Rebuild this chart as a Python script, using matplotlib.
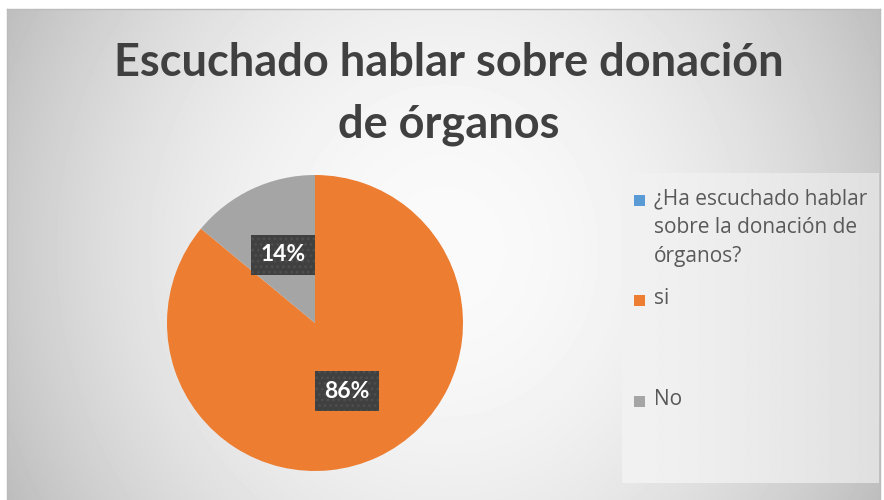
import numpy as np
import matplotlib
matplotlib.use("Agg")
import matplotlib.pyplot as plt
from matplotlib.patches import Rectangle

# data
categories = ["¿Ha escuchado hablar\nsobre la donación de\nórganos?", "si", "No"]
values = [0, 86, 14]
colors = ["#5B9BD5", "#ED7D31", "#A5A5A5"]
title = "Escuchado hablar sobre donación\nde órganos"

W, H = 884, 500
fig = plt.figure(figsize=(W / 100, H / 100), dpi=100, facecolor="white")

# chart area background: soft radial gradient
bg = fig.add_axes([7 / W, 0, (880 - 7) / W, (500 - 9) / H])
yy, xx = np.mgrid[0:491, 0:873]
dx = (xx + 7 - 445) / 440.0
dy = (yy + 9 - 250) / 245.0
shade = np.clip(0.98 - 0.19 * dx**2 - 0.05 * dy**2, 0, 1)
bg.imshow(shade, cmap="gray", vmin=0, vmax=1, aspect="auto", interpolation="bilinear")
bg.set_xticks([])
bg.set_yticks([])
bg.spines["bottom"].set_visible(False)
for side in ["top", "left", "right"]:
    bg.spines[side].set_color("#bcbcbc")
    bg.spines[side].set_linewidth(1)

# legend box with its own light fill
lg = fig.add_axes([622 / W, (500 - 483) / H, (879 - 622) / W, (483 - 173) / H])
gx = np.linspace(0, 1, 200)[None, :] * np.ones((50, 1))
lg.imshow(0.945 - 0.07 * gx**1.5, cmap="gray", vmin=0, vmax=1, aspect="auto")
lg.axis("off")

fig.text(449 / W, 1 - 94 / H, title, ha="center", va="center", fontsize=32.5,
         fontweight="bold", color="#404040", family="Lato", linespacing=1.55)

# pie
cx, cy, r = 315, 323, 148
ax = fig.add_axes([(cx - r) / W, (H - cy - r) / H, 2 * r / W, 2 * r / H])
plt.rcParams["hatch.color"] = "#4e4e4e"
plt.rcParams["hatch.linewidth"] = 1.2


def fmt(p):
    return "" if p < 0.5 else "%d%%" % round(p)


wedges, texts, autotexts = ax.pie(values, colors=colors, startangle=90, counterclock=False,
                                  autopct=fmt, pctdistance=0.51, radius=1,
                                  wedgeprops=dict(linewidth=0))
for t in autotexts:
    t.set_color("white")
    t.set_fontsize(16.5)
    t.set_fontweight("bold")
    t.set_family("Lato")
    t.set_bbox(dict(boxstyle="square,pad=0.42", facecolor="#404040", edgecolor="#4e4e4e",
                    linewidth=0, hatch="..."))
ax.set_xlim(-1, 1)
ax.set_ylim(-1, 1)
ax.axis("off")

# legend entries, Excel-style spacing
leg_y = [200, 300, 401]
for lab, col, y in zip(categories, colors, leg_y):
    fig.patches.append(Rectangle((634 / W, 1 - (y + 6) / H), 11 / W, 11 / H,
                                 transform=fig.transFigure, facecolor=col, edgecolor="none"))
    fig.text(654 / W, 1 - (y - 12) / H, lab, ha="left", va="top", fontsize=15,
             color="#595959", family="Open Sans", linespacing=1.5)

plt.savefig("out.png", dpi=100)
